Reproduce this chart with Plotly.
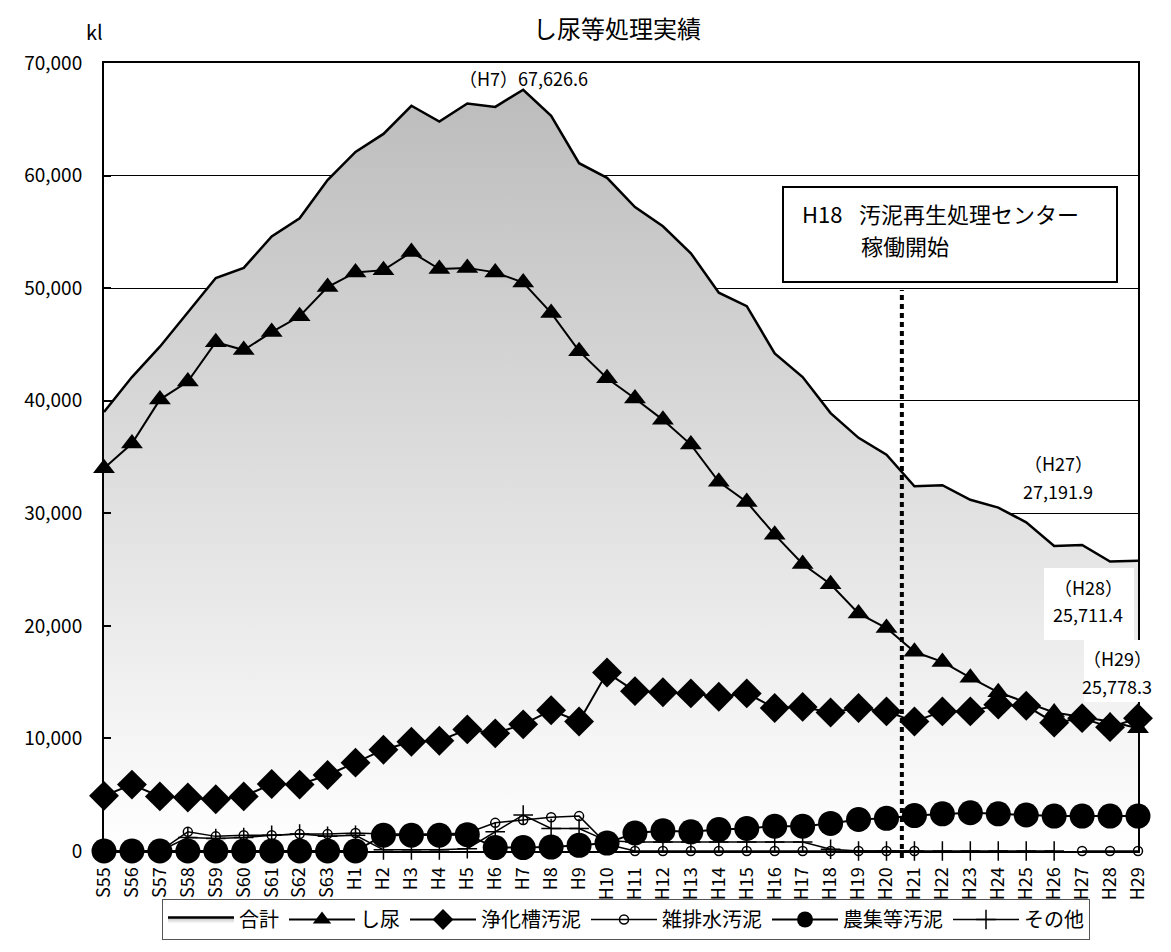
import plotly.graph_objects as go

categories = ["S55", "S56", "S57", "S58", "S59", "S60", "S61", "S62", "S63",
              "H1", "H2", "H3", "H4", "H5", "H6", "H7", "H8", "H9", "H10",
              "H11", "H12", "H13", "H14", "H15", "H16", "H17", "H18", "H19", "H20",
              "H21", "H22", "H23", "H24", "H25", "H26", "H27", "H28", "H29"]

total = [39000, 42100, 44800, 47900, 50900, 51800, 54600, 56200, 59600,
         62100, 63700, 66200, 64800, 66400, 66100, 67626.6, 65300, 61100, 59800,
         57200, 55500, 53100, 49600, 48400, 44200, 42100, 38900, 36700, 35200,
         32400, 32500, 31200, 30500, 29200, 27100, 27191.9, 25711.4, 25778.3]

shinyo = [34000, 36200, 40100, 41700, 45200, 44500, 46100, 47500, 50100,
          51400, 51600, 53200, 51700, 51800, 51400, 50500, 47800, 44400, 42000,
          40200, 38300, 36100, 32800, 31000, 28100, 25500, 23700, 21100, 19800,
          17700, 16800, 15400, 14100, 13200, 12300, 11900, 11500, 10900]

jokaso = [4900, 5900, 4850, 4750, 4600, 4850, 5950, 5900, 6750,
          7850, 9000, 9700, 9800, 10800, 10450, 11250, 12500, 11500, 15850,
          14200, 14100, 14000, 13700, 14000, 12700, 12800, 12300, 12700, 12400,
          11500, 12400, 12400, 13000, 12900, 11400, 11800, 11000, 11800]

zappaisui = [0, 0, 0, 1700, 1300, 1400, 1400, 1500, 1500,
             1600, 1500, 1500, 1500, 1600, 2500, 2750, 3000, 3100, 600,
             0, 0, 0, 0, 0, 0, 0, 0, 0, 0,
             0, None, None, None, None, None, 0, 0, 0]

noshu = [0, 0, 0, 0, 0, 0, 0, 0, 0,
         0, 1400, 1400, 1400, 1450, 300, 300, 350, 500, 700,
         1600, 1800, 1700, 1900, 2000, 2200, 2200, 2450, 2800, 2900,
         3150, 3300, 3400, 3300, 3200, 3100, 3100, 3100, 3100]

sonota = [0, 0, 0, 1200, 1100, 1200, 1400, 1500, 1300,
          1400, 100, 100, 100, 200, 1700, 3200, 2000, 2000, 900,
          800, 800, 800, 800, 800, 800, 800, 150, 0, 0,
          0, 0, 0, 0, 0, 0, None, None, None]

series_names = ["合計", "し尿", "浄化槽汚泥", "雑排水汚泥", "農集等汚泥", "その他"]

FONT = "Noto Sans CJK JP"

fig = go.Figure()

fig.add_trace(go.Scatter(
    x=categories, y=total, name=series_names[0], mode="lines",
    fill="tozeroy", fillcolor="#d6d6d6",
    fillgradient=dict(type="vertical", colorscale=[[0, "#ffffff"], [1, "#bcbcbc"]]),
    line=dict(color="black", width=2.5),
))
fig.add_trace(go.Scatter(
    x=categories, y=shinyo, name=series_names[1], mode="lines+markers",
    line=dict(color="black", width=2),
    marker=dict(symbol="triangle-up", size=19, color="black"),
    cliponaxis=False,
))
fig.add_trace(go.Scatter(
    x=categories, y=jokaso, name=series_names[2], mode="lines+markers",
    line=dict(color="black", width=2),
    marker=dict(symbol="diamond", size=23, color="black"),
    cliponaxis=False,
))
fig.add_trace(go.Scatter(
    x=categories, y=zappaisui, name=series_names[3], mode="lines+markers",
    line=dict(color="black", width=1.5),
    marker=dict(symbol="circle-open", size=9, color="black", line=dict(width=1.5)),
    cliponaxis=False,
))
fig.add_trace(go.Scatter(
    x=categories, y=noshu, name=series_names[4], mode="lines+markers",
    line=dict(color="black", width=2),
    marker=dict(symbol="circle", size=25, color="black"),
    cliponaxis=False,
))
fig.add_trace(go.Scatter(
    x=categories, y=sonota, name=series_names[5], mode="lines+markers",
    line=dict(color="black", width=1.5),
    marker=dict(symbol="cross-thin", size=14, color="black", line=dict(width=1.5, color="black")),
    cliponaxis=False,
))

# The page body adds an 8px offset; the figure is sized to compensate.
OFF = 8
W, H = 1171 - 2 * OFF, 952 - 2 * OFF
PL, PR, PT, PB = 104, 1138, 63, 851   # plot area in page pixels

def px(xp):
    return (xp - PL) / (PR - PL)

def py(yp):
    return (PB - yp) / (PB - PT)

fig.update_layout(
    width=W, height=H,
    margin=dict(l=PL - OFF, r=W + OFF - PR, t=PT - OFF, b=H + OFF - PB, autoexpand=False),
    paper_bgcolor="white", plot_bgcolor="white",
    font=dict(family=FONT, color="black", size=19),
    title=dict(text="し尿等処理実績", xref="paper", x=px(617), xanchor="center",
               yref="container", y=1 - (30 - OFF) / H, yanchor="middle",
               font=dict(size=24, family=FONT, color="black")),
    showlegend=True,
    legend=dict(orientation="h", x=px(626), xanchor="center", y=py(899), yanchor="top",
                bordercolor="#555555", borderwidth=1, font=dict(size=20, family=FONT),
                bgcolor="white", traceorder="normal", itemwidth=66),
    xaxis=dict(type="category", range=[0, len(categories) - 1], tickangle=-90,
               showline=True, linecolor="black", linewidth=2, mirror=True,
               showgrid=False, ticks="", tickfont=dict(size=18),
               ticklabelstandoff=7, automargin=False),
    yaxis=dict(range=[0, 70000], dtick=10000, tickformat=",", showline=True,
               linecolor="black", linewidth=2, mirror=True, showgrid=True,
               gridcolor="black", gridwidth=1, zeroline=False,
               ticks="inside", ticklen=7, tickwidth=2, tickcolor="black",
               tickfont=dict(size=19), ticklabelstandoff=16, automargin=False),
)

# Text box and dotted marker line
fig.add_shape(type="rect", xref="paper", yref="paper",
              x0=px(783), x1=px(1117), y0=py(282), y1=py(187),
              fillcolor="white", line=dict(color="black", width=2), layer="above")
fig.add_shape(type="line", xref="x", yref="paper", x0=28.55, x1=28.55,
              y0=py(858), y1=py(290), line=dict(color="black", width=4, dash="5px,4px"))

# White backgrounds behind the H28 / H29 labels
fig.add_shape(type="rect", xref="paper", yref="paper",
              x0=px(1044), x1=px(1134), y0=py(640), y1=py(568),
              fillcolor="white", line=dict(width=0), layer="above")
fig.add_shape(type="rect", xref="paper", yref="paper",
              x0=px(1084), x1=px(1150), y0=py(702), y1=py(640),
              fillcolor="white", line=dict(width=0), layer="above")

ann = [
    ("H18\u2002\u2005汚泥再生処理センター", 800, 213, "left", 22),
    ("稼働開始", 859, 245, "left", 22),
    ("（H7）67,626.6", 523, 78, "center", 18),
    ("（H27）", 1058, 463, "center", 18),
    ("27,191.9", 1058, 491, "center", 18),
    ("（H28）", 1088, 587, "center", 18),
    ("25,711.4", 1088, 614, "center", 18),
    ("（H29）", 1117, 658, "center", 18),
    ("25,778.3", 1117, 686, "center", 18),
    ("kl", 94, 31, "center", 20),
]
for text, x, y, anchor, size in ann:
    fig.add_annotation(text=text, x=px(x), y=py(y), xref="paper", yref="paper",
                       xanchor=anchor, yanchor="middle", showarrow=False,
                       font=dict(size=size, family=FONT, color="black"))

fig.write_html("out.html")
